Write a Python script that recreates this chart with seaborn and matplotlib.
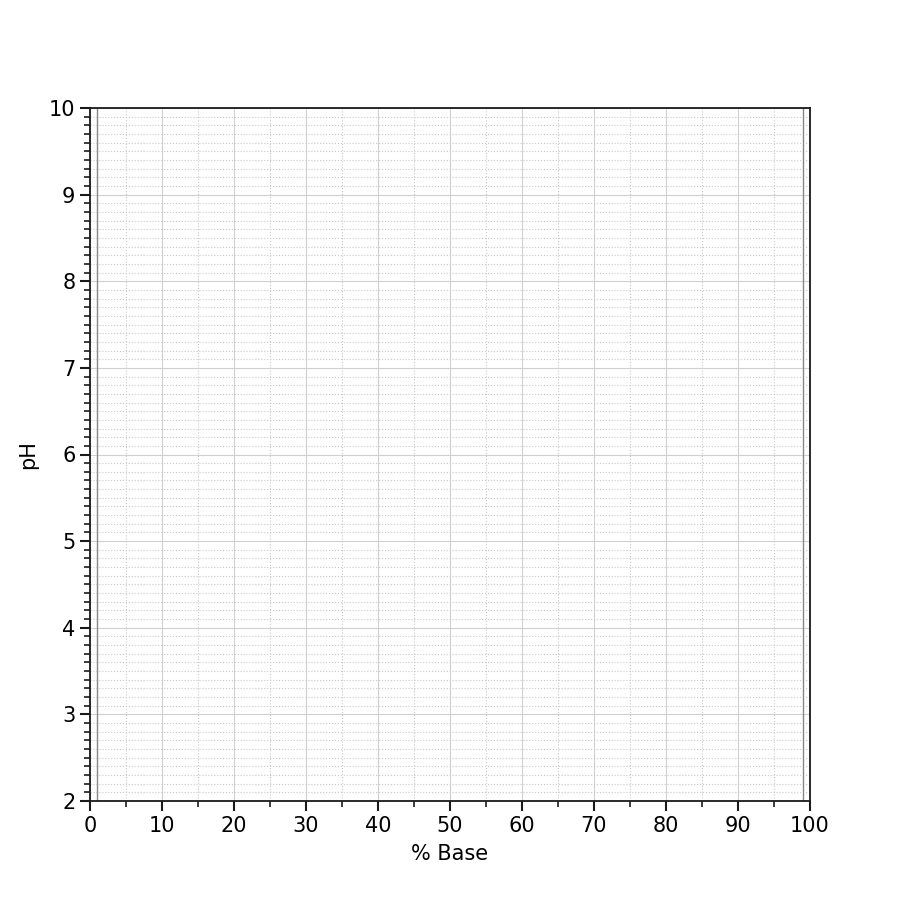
import matplotlib
matplotlib.use("Agg")
import matplotlib.pyplot as plt
from matplotlib.ticker import MultipleLocator
import seaborn as sns

# Axis settings for an empty titration chart
x_limits = [0, 100]
y_limits = [2, 10]
x_major_step = 10
x_minor_step = 5
y_major_step = 1
y_minor_step = 0.1
# reference lines (% base)
ref_lines = [1, 99]

sns.set_style("ticks")
plt.rcParams['font.family'] = ['DejaVu Sans']
plt.rcParams['text.color'] = 'black'
plt.rcParams['axes.labelcolor'] = 'black'
plt.rcParams['xtick.color'] = 'black'
plt.rcParams['ytick.color'] = 'black'

fig, ax = plt.subplots(figsize=(9, 9), dpi=100)
fig.subplots_adjust(left=0.1, right=0.9, bottom=0.11, top=0.88)

ax.set_xlim(x_limits)
ax.set_ylim(y_limits)
ax.xaxis.set_major_locator(MultipleLocator(x_major_step))
ax.xaxis.set_minor_locator(MultipleLocator(x_minor_step))
ax.yaxis.set_major_locator(MultipleLocator(y_major_step))
ax.yaxis.set_minor_locator(MultipleLocator(y_minor_step))

ax.grid(which='major', color='#d0d0d0', linestyle='-', linewidth=0.8)
ax.grid(which='minor', color='#c8c8c8', linestyle=':', linewidth=0.8)

for xv in ref_lines:
    ax.axvline(xv, color='#888888', linewidth=1.0, zorder=1)

for side in ['left', 'bottom', 'top', 'right']:
    ax.spines[side].set_visible(True)
    ax.spines[side].set_color('#1a1a1a')
    ax.spines[side].set_linewidth(1.3)

ax.tick_params(which='major', length=7, width=1.5, labelsize=15, color='#1a1a1a')
ax.tick_params(which='minor', length=4, width=1.2, color='#1a1a1a')
ax.tick_params(top=False, right=False, which='both')

ax.set_xlabel('% Base', fontsize=15, labelpad=6)
ax.set_ylabel('pH', fontsize=15, labelpad=8)

fig.savefig('out.png', dpi=100)
